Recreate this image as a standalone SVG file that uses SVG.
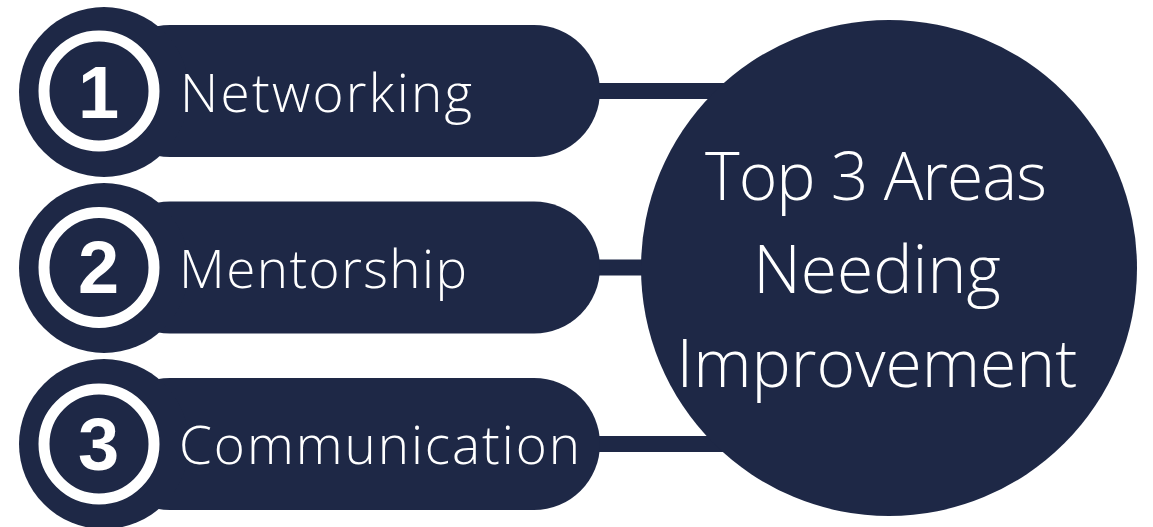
<svg xmlns="http://www.w3.org/2000/svg" width="1153" height="527" viewBox="0 0 1153 527">
  <style>
    .fill { fill: #1e2846; }
    .conn { stroke: #1e2846; stroke-width: 16; fill: none; }
    .ring { fill: none; stroke: #ffffff; stroke-width: 11; }
    .num { font-family: "Liberation Sans", Arial, sans-serif; font-weight: 700; font-size: 74px; fill: #ffffff; text-anchor: middle; }
    .label { font-family: "Open Sans", "Noto Sans", sans-serif; font-weight: 300; font-size: 53px; fill: #ffffff; }
    .title { font-family: "Open Sans", "Noto Sans", sans-serif; font-weight: 300; font-size: 66px; fill: #ffffff; text-anchor: middle; }
  </style>
  <rect width="1153" height="527" fill="#ffffff"/>
  <g id="connectors">
    <line class="conn" x1="590" y1="91" x2="760" y2="91"/>
    <line class="conn" x1="590" y1="267.5" x2="760" y2="267.5"/>
    <line class="conn" x1="590" y1="444" x2="760" y2="444"/>
  </g>
  <g id="item-1">
    <rect class="fill" x="104" y="25" width="496" height="132" rx="66" ry="66"/>
    <circle class="fill" cx="104" cy="92" r="85"/>
    <circle class="ring" cx="99" cy="91" r="55"/>
    <text class="num" x="98.5" y="118">1</text>
    <text class="label" x="180" y="112" textLength="292" lengthAdjust="spacing">Networking</text>
  </g>
  <g id="item-2">
    <rect class="fill" x="104" y="201.5" width="496" height="132" rx="66" ry="66"/>
    <circle class="fill" cx="104" cy="268" r="85"/>
    <circle class="ring" cx="99" cy="267.5" r="55"/>
    <text class="num" x="98.5" y="293">2</text>
    <text class="label" x="179" y="288" textLength="288" lengthAdjust="spacing">Mentorship</text>
  </g>
  <g id="item-3">
    <rect class="fill" x="104" y="378" width="496" height="132" rx="66" ry="66"/>
    <circle class="fill" cx="104" cy="444" r="85"/>
    <circle class="ring" cx="99" cy="444" r="55"/>
    <text class="num" x="98.5" y="470">3</text>
    <text class="label" x="179" y="464" textLength="401" lengthAdjust="spacing">Communication</text>
  </g>
  <g id="center">
    <circle class="fill" cx="889" cy="268" r="248"/>
    <text class="title" x="876" y="200" textLength="342" lengthAdjust="spacing">Top 3 Areas</text>
    <text class="title" x="877" y="293">Needing</text>
    <text class="title" x="877" y="387">Improvement</text>
  </g>
</svg>
